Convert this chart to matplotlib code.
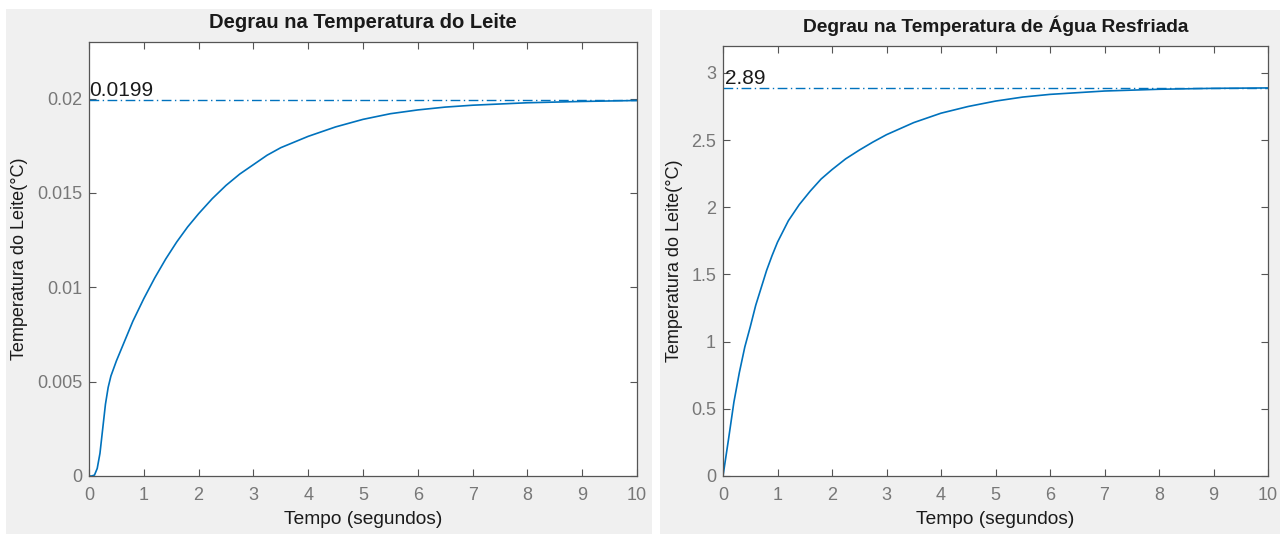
import numpy as np
import matplotlib.pyplot as plt
from matplotlib.patches import Rectangle

# valores
t_leite = [0, 0.05, 0.1, 0.15, 0.2, 0.25, 0.3, 0.35, 0.4, 0.5, 0.6, 0.7, 0.8, 0.9,
           1.0, 1.2, 1.4, 1.6, 1.8, 2.0, 2.25, 2.5, 2.75, 3.0, 3.25, 3.5, 3.75,
           4.0, 4.5, 5.0, 5.5, 6.0, 6.5, 7.0, 8.0, 9.0, 10.0]
y_leite = [0, 0, 0.00005, 0.0004, 0.0012, 0.0025, 0.0038, 0.0047, 0.0053, 0.0061,
           0.0068, 0.0075, 0.0082, 0.0088, 0.0094, 0.0105, 0.0115, 0.0124, 0.0132,
           0.0139, 0.0147, 0.0154, 0.0160, 0.0165, 0.0170, 0.0174, 0.0177, 0.0180,
           0.0185, 0.0189, 0.0192, 0.0194, 0.01955, 0.01965, 0.01978, 0.01985, 0.0199]
final_leite = 0.0199

t_agua = [0, 0.1, 0.2, 0.3, 0.4, 0.5, 0.6, 0.7, 0.8, 0.9, 1.0, 1.2, 1.4, 1.6, 1.8,
          2.0, 2.25, 2.5, 2.75, 3.0, 3.5, 4.0, 4.5, 5.0, 5.5, 6.0, 7.0, 8.0, 9.0, 10.0]
y_agua = [0, 0.27, 0.55, 0.77, 0.96, 1.11, 1.27, 1.40, 1.53, 1.64, 1.74, 1.90, 2.02,
          2.12, 2.21, 2.28, 2.36, 2.425, 2.485, 2.54, 2.63, 2.70, 2.75, 2.79, 2.82,
          2.84, 2.865, 2.878, 2.885, 2.888]
final_agua = 2.89

titulos = ['Degrau na Temperatura do Leite', 'Degrau na Temperatura de Água Resfriada']
ylims = [(0, 0.023), (0, 3.2)]
yticks = [[0, 0.005, 0.01, 0.015, 0.02], [0, 0.5, 1, 1.5, 2, 2.5, 3]]
ytick_labels = [['0', '0.005', '0.01', '0.015', '0.02'],
                ['0', '0.5', '1', '1.5', '2', '2.5', '3']]
rotulos_final = ['0.0199', '2.89']
tam_titulo = [14.5, 13.8]

plt.rcParams['font.family'] = ['Liberation Sans', 'DejaVu Sans']
azul = '#0072BD'
cinza = '#f0f0f0'

fig = plt.figure(figsize=(12.8, 5.34), dpi=100)
fig.patch.set_facecolor('white')
W, H = 1280, 534
# fundos cinzas das duas janelas
fig.add_artist(Rectangle((6 / W, 0), 646 / W, (H - 9) / H, transform=fig.transFigure,
                         facecolor=cinza, edgecolor='none', zorder=0))
fig.add_artist(Rectangle((660 / W, 0), 620 / W, (H - 10) / H, transform=fig.transFigure,
                         facecolor=cinza, edgecolor='none', zorder=0))

ax1 = fig.add_axes([89 / W, 58 / H, 548 / W, 434 / H])
ax2 = fig.add_axes([723 / W, 58 / H, 545 / W, 430 / H])

dados = [(t_leite, y_leite, final_leite), (t_agua, y_agua, final_agua)]
for i, ax in enumerate([ax1, ax2]):
    t, y, yf = dados[i]
    ax.plot(t, y, color=azul, lw=1.2)
    ax.axhline(yf, color=azul, lw=1.0, dashes=(7, 2.5, 1, 2.5))
    ax.text(0.03 if i else 0, yf, rotulos_final[i], fontsize=15, color='#1a1a1a',
            va='bottom', ha='left')
    ax.set_xlim(0, 10)
    ax.set_ylim(*ylims[i])
    ax.set_xticks(range(11))
    ax.set_yticks(yticks[i])
    ax.set_yticklabels(ytick_labels[i])
    ax.tick_params(direction='in', top=True, right=True, length=5, width=0.8,
                   colors='#555555', labelcolor='#777777', labelsize=13, pad=5)
    ax.tick_params(axis='x', pad=8)
    for s in ax.spines.values():
        s.set_color('#555555')
        s.set_linewidth(0.9)
    ax.set_title(titulos[i], fontsize=tam_titulo[i], fontweight='bold', color='#1a1a1a',
                 pad=10)
    ax.set_xlabel('Tempo (segundos)', fontsize=13.8, color='#1a1a1a', labelpad=5)
    ax.set_ylabel('Temperatura do Leite(°C)', fontsize=13, color='#1a1a1a', labelpad=6)

fig.savefig('out.png', dpi=100, facecolor=fig.get_facecolor())
